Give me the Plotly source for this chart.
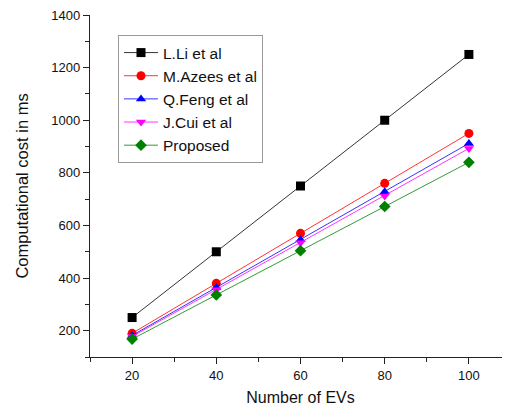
import plotly.graph_objects as go

x_evs = [20, 40, 60, 80, 100]
lli = [250, 500, 750, 1000, 1250]
azees = [190, 380, 570, 760, 950]
feng = [182, 364, 546, 728, 912]
cui = [178, 356, 534, 712, 893]
proposed = [168, 336, 504, 672, 840]

series = [
    ("L.Li et al", lli, "black", "square"),
    ("M.Azees et al", azees, "red", "circle"),
    ("Q.Feng et al", feng, "blue", "triangle-up"),
    ("J.Cui et al", cui, "magenta", "triangle-down"),
    ("Proposed", proposed, "green", "diamond"),
]

FONT = "Liberation Sans, Arial"

fig = go.Figure()
for name, vals, col, sym in series:
    fig.add_trace(go.Scatter(
        x=x_evs, y=vals, name=name, mode="lines+markers",
        line=dict(color=col, width=0.8),
        marker=dict(color=col, symbol=sym, size=9),
    ))

axis_common = dict(
    showgrid=False, zeroline=False, showline=True, linecolor="#222", linewidth=1.3,
    ticks="outside", ticklen=6, tickwidth=1.3, tickcolor="#222",
    tickfont=dict(family=FONT, size=13, color="#111"),
    ticklabeloverflow="allow",
    minor=dict(ticks="outside", ticklen=4, tickwidth=1.2, tickcolor="#222"),
)

fig.update_layout(
    width=510, height=408,
    margin=dict(l=82, r=7, t=7, b=59, autoexpand=False),
    paper_bgcolor="white", plot_bgcolor="white",
    xaxis=dict(range=[10, 110], tickvals=[20, 40, 60, 80, 100],
               title=dict(text="Number of EVs", font=dict(family=FONT, size=16, color="#111"), standoff=10),
               **axis_common),
    yaxis=dict(range=[100, 1400], dtick=200, tick0=0,
               title=dict(text="Computational cost in ms", font=dict(family=FONT, size=16.5, color="#111"), standoff=18),
               **axis_common),
    legend=dict(x=0.0665, y=0.9415, xanchor="left", yanchor="top",
                bgcolor="white", bordercolor="#999", borderwidth=1,
                font=dict(family=FONT, size=15.5, color="#111"),
                tracegroupgap=0, itemwidth=34),
    showlegend=True,
)
fig.update_xaxes(minor=dict(dtick=10, tick0=0))
fig.update_yaxes(minor=dict(dtick=100, tick0=0))

fig.write_html("out.html")
